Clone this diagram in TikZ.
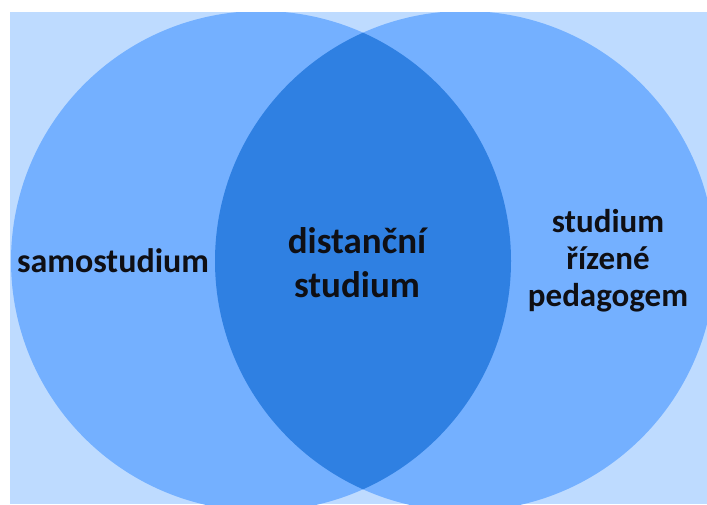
\documentclass[tikz,border=0pt]{standalone}
\usepackage{fontspec}
\setmainfont{Carlito}
\definecolor{bglight}{RGB}{190,219,255}
\definecolor{circ}{RGB}{116,176,255}
\definecolor{lens}{RGB}{47,128,226}
\definecolor{txt}{RGB}{15,15,20}
\begin{document}
\begin{tikzpicture}[x=1pt,y=-1pt,
  lbl/.style={font=\fontsize{33}{37}\selectfont\bfseries, text=txt, align=center, inner sep=0pt}]
\useasboundingbox (0,0) rectangle (707,504);
\fill[white] (0,0) rectangle (707,504);
\fill[bglight] (10,12) rectangle (707,504);
\begin{scope}
  \clip (10,12) rectangle (707,504);
  \fill[circ] (261,261) circle[radius=250];
  \fill[circ] (465,261) circle[radius=250];
  \begin{scope}
    \clip (261,261) circle[radius=250];
    \fill[lens] (465,261) circle[radius=250];
  \end{scope}
\end{scope}
\node[lbl, font=\fontsize{34}{38}\selectfont\bfseries] (self) at (113,261) {samostudium};
\node[lbl, font=\fontsize{37}{44}\selectfont\bfseries] (dist) at (357,263) {distanční\\studium};
\node[lbl] (ped) at (608,261) {studium\\řízené\\pedagogem};
\end{tikzpicture}
\end{document}
